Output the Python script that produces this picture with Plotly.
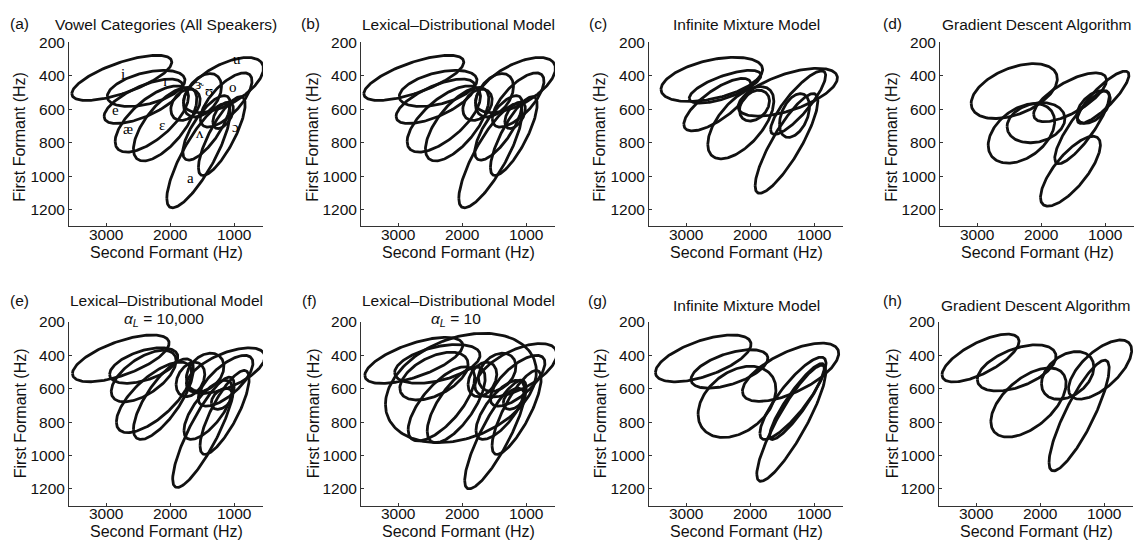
import numpy as np
import plotly.graph_objects as go

# ---------------- data: ellipse centres (F2, F1), half-extents and correlation ----------------
# Panel (a) Vowel categories (all speakers)
A_F2 = [2755, 2375, 2417, 2286, 2078, 1760, 1495, 1167, 1125, 1172, 1432, 1193, 1557]
A_F1 = [412, 475, 552, 658, 689, 573, 516, 455, 544, 636, 711, 760, 878]
A_W = [781, 607, 615, 573, 495, 229, 297, 625, 404, 161, 370, 365, 495]
A_H = [135, 108, 133, 198, 220, 94, 130, 165, 162, 79, 193, 236, 311]
A_R = [0.70, 0.45, 0.68, 0.68, 0.68, 0.30, 0.40, 0.60, 0.70, 0.50, 0.75, 0.80, 0.82]

VOWELS = ["i", "ɪ", "e", "æ", "ɛ", "ɝ", "ʊ", "u", "o", "ʌ", "ɔ", "a"]
LAB_F2 = [2740, 2078, 2859, 2651, 2130, 1542, 1386, 958, 1010, 1531, 985, 1688]
LAB_F1 = [391, 430, 607, 715, 695, 449, 489, 302, 469, 740, 705, 1009]

# Panel (b) Lexical-distributional model
B_F2 = [2755, 2375, 2417, 2286, 2078, 1760, 1495, 1167, 1125, 1172, 1432, 1193, 1557]
B_F1 = [412, 475, 552, 658, 689, 573, 516, 455, 544, 636, 711, 760, 878]
B_W = [781, 607, 615, 573, 495, 229, 297, 625, 404, 161, 370, 365, 495]
B_H = [135, 108, 133, 198, 220, 94, 130, 165, 162, 79, 193, 236, 311]
B_R = [0.70, 0.45, 0.68, 0.68, 0.68, 0.30, 0.40, 0.60, 0.70, 0.50, 0.75, 0.80, 0.82]

# Panel (c) Infinite mixture model
C_F2 = [2599, 2391, 2510, 2146, 1412, 1250, 1307, 1432, 1932]
C_F1 = [421, 465, 572, 680, 498, 560, 637, 804, 578]
C_W = [794, 560, 526, 516, 776, 430, 234, 490, 234]
C_H = [132, 98, 157, 216, 143, 190, 131, 298, 92]
C_R = [0.45, 0.70, 0.75, 0.60, 0.60, 0.85, 0.40, 0.85, 0.30]

# Panel (d) Gradient descent algorithm
D_F2 = [2420, 2308, 2080, 1548, 1032, 1181, 1361, 1542]
D_F1 = [491, 744, 680, 528, 528, 586, 707, 970]
D_W = [673, 519, 452, 569, 404, 261, 426, 468]
D_H = [164, 178, 120, 146, 156, 98, 218, 209]
D_R = [0.45, 0.40, 0.20, 0.70, 0.85, 0.50, 0.85, 0.75]

# Panel (e) Lexical-distributional model, alpha_L = 10,000
E_F2 = [2771, 2413, 2413, 2253, 2104, 1683, 1453, 1133, 1133, 1192, 1405, 1149, 1480]
E_F1 = [419, 462, 525, 652, 663, 545, 502, 492, 553, 661, 727, 742, 861]
E_W = [755, 533, 507, 587, 469, 224, 293, 613, 427, 165, 379, 384, 480]
E_H = [140, 106, 154, 211, 241, 103, 114, 136, 152, 63, 177, 251, 330]
E_R = [0.65, 0.50, 0.60, 0.70, 0.75, 0.30, 0.30, 0.60, 0.70, 0.40, 0.70, 0.80, 0.85]

# Panel (f) Lexical-distributional model, alpha_L = 10
F_F2 = [2019, 2755, 2387, 2440, 2323, 2093, 1683, 1453, 1160, 1133, 1192, 1405, 1149, 1480]
F_F1 = [596, 431, 452, 525, 691, 697, 545, 502, 490, 553, 661, 727, 742, 874]
F_W = [1179, 765, 667, 533, 520, 453, 224, 293, 640, 427, 165, 379, 384, 480]
F_H = [327, 138, 116, 143, 222, 226, 103, 114, 160, 152, 63, 177, 251, 325]
F_R = [0.30, 0.65, 0.45, 0.50, 0.70, 0.70, 0.30, 0.30, 0.60, 0.70, 0.40, 0.70, 0.80, 0.85]

# Panel (g) Infinite mixture model
G_F2 = [2733, 2323, 2205, 1368, 1331, 1357, 1267]
G_F1 = [419, 482, 679, 502, 658, 807, 677]
G_W = [747, 600, 608, 752, 517, 539, 427]
G_H = [140, 115, 213, 174, 246, 347, 227]
G_R = [0.60, 0.55, 0.35, 0.65, 0.85, 0.88, 0.90]

# Panel (h) Gradient descent algorithm
H_F2 = [2931, 2367, 2182, 1570, 1063, 1391]
H_F1 = [417, 476, 683, 521, 486, 761]
H_W = [602, 615, 588, 409, 493, 470]
H_H = [143, 138, 207, 143, 177, 331]
H_R = [0.70, 0.50, 0.55, 0.35, 0.65, 0.85]

TITLES = ["Vowel Categories (All Speakers)", "Lexical–Distributional Model",
          "Infinite Mixture Model", "Gradient Descent Algorithm",
          "Lexical–Distributional Model", "Lexical–Distributional Model",
          "Infinite Mixture Model", "Gradient Descent Algorithm"]
SUBTITLES = {4: "<i>α<sub>L</sub></i> = 10,000", 5: "<i>α<sub>L</sub></i> = 10"}
LETTERS = ["(a)", "(b)", "(c)", "(d)", "(e)", "(f)", "(g)", "(h)"]
X_TICKS = [1000, 2000, 3000]
Y_TICKS = [200, 400, 600, 800, 1000, 1200]

PANELS = [
    (A_F2, A_F1, A_W, A_H, A_R), (B_F2, B_F1, B_W, B_H, B_R),
    (C_F2, C_F1, C_W, C_H, C_R), (D_F2, D_F1, D_W, D_H, D_R),
    (E_F2, E_F1, E_W, E_H, E_R), (F_F2, F_F1, F_W, F_H, F_R),
    (G_F2, G_F1, G_W, G_H, G_R), (H_F2, H_F1, H_W, H_H, H_R),
]

# ---------------- layout geometry (pixels) ----------------
W, H = 1143, 546
COL_X0 = [69, 361, 649, 940, 69, 361, 649, 939]
AX_W = 194
ROW_TOP = [34, 34, 34, 34, 318, 318, 318, 318]
AX_H = 187
LINE_COL = "#111111"
FONT = "Liberation Sans, Arial, sans-serif"

fig = go.Figure()
t = np.linspace(0, 2 * np.pi, 181)

for i, (f2, f1, w, h, r) in enumerate(PANELS):
    xa = "x" if i == 0 else f"x{i+1}"
    ya = "y" if i == 0 else f"y{i+1}"
    for cx, cy, hw, hh, rho in zip(f2, f1, w, h, r):
        xs = cx + hw * np.cos(t)
        ys = cy + hh * (rho * np.cos(t) + np.sqrt(1 - rho ** 2) * np.sin(t))
        fig.add_trace(go.Scatter(x=xs, y=ys, mode="lines", xaxis=xa, yaxis=ya,
                                 line=dict(color=LINE_COL, width=2.8),
                                 hoverinfo="skip", showlegend=False))

layout = dict(width=W, height=H, autosize=False, margin=dict(l=0, r=0, t=0, b=0),
              paper_bgcolor="white", plot_bgcolor="white", showlegend=False,
              font=dict(family=FONT, size=15, color="#111"))
annotations = []
for i in range(8):
    x0 = COL_X0[i]
    y0 = ROW_TOP[i]
    sfx = "" if i == 0 else str(i + 1)
    layout["xaxis" + sfx] = dict(
        domain=[x0 / W, (x0 + AX_W) / W], anchor="y" + sfx, range=[3580, 549],
        tickvals=X_TICKS, ticktext=[str(v) for v in X_TICKS], ticks="inside",
        ticklen=3, tickcolor="#333", showline=True, linecolor="#333", linewidth=1,
        showgrid=False, zeroline=False, tickfont=dict(size=15.5, color="#111"),
        ticklabelstandoff=-6)
    layout["yaxis" + sfx] = dict(
        domain=[1 - (y0 + AX_H) / H, 1 - y0 / H], anchor="x" + sfx, range=[1300, 200],
        tickvals=Y_TICKS, ticktext=[str(v) for v in Y_TICKS], ticks="inside",
        ticklen=3, tickcolor="#333", showline=True, linecolor="#333", linewidth=1,
        showgrid=False, zeroline=False, tickfont=dict(size=15.5, color="#111"))
    cxp = (x0 + AX_W / 2) / W
    # titles
    ty = 16 if i < 4 else (296 if i in SUBTITLES else 301)
    annotations.append(dict(text=TITLES[i], x=cxp, y=1 - ty / H, xref="paper", yref="paper",
                            showarrow=False, xanchor="center", yanchor="middle",
                            font=dict(size=15.5)))
    if i in SUBTITLES:
        annotations.append(dict(text=SUBTITLES[i], x=cxp - 2 / W, y=1 - 304 / H, xref="paper",
                                yref="paper", yanchor="top", showarrow=False, xanchor="center",
                                font=dict(size=15.5)))
    lx = [19, 310, 598, 892, 19, 309, 598, 892][i]
    ly = 15 if i < 4 else 296
    annotations.append(dict(text=LETTERS[i], x=lx / W, y=1 - ly / H, xref="paper", yref="paper",
                            showarrow=False, xanchor="center", yanchor="middle",
                            font=dict(size=15.5)))
    # axis titles
    xty = 248 if i < 4 else 531
    annotations.append(dict(text="Second Formant (Hz)", x=cxp, y=1 - xty / H, xref="paper",
                            yref="paper", showarrow=False, xanchor="center", yanchor="middle",
                            font=dict(size=16)))
    ytx = [20, 313, 600, 892, 20, 313, 600, 892][i]
    yty = 130 if i < 4 else 411
    annotations.append(dict(text="First Formant (Hz)", x=ytx / W, y=1 - yty / H, xref="paper",
                            yref="paper", showarrow=False, xanchor="center", yanchor="middle",
                            textangle=-90, font=dict(size=16)))

# vowel labels in panel (a)
for v, lx, ly in zip(VOWELS, LAB_F2, LAB_F1):
    annotations.append(dict(text=v, x=lx, y=ly, xref="x", yref="y", showarrow=False,
                            font=dict(family="Liberation Serif, DejaVu Serif, serif", size=15,
                                      color="#000000")))

layout["annotations"] = annotations
fig.update_layout(**layout)

fig.write_html("out.html", config={"displayModeBar": False},
               post_script="document.body.style.margin='0';document.documentElement.style.overflow='hidden';")
